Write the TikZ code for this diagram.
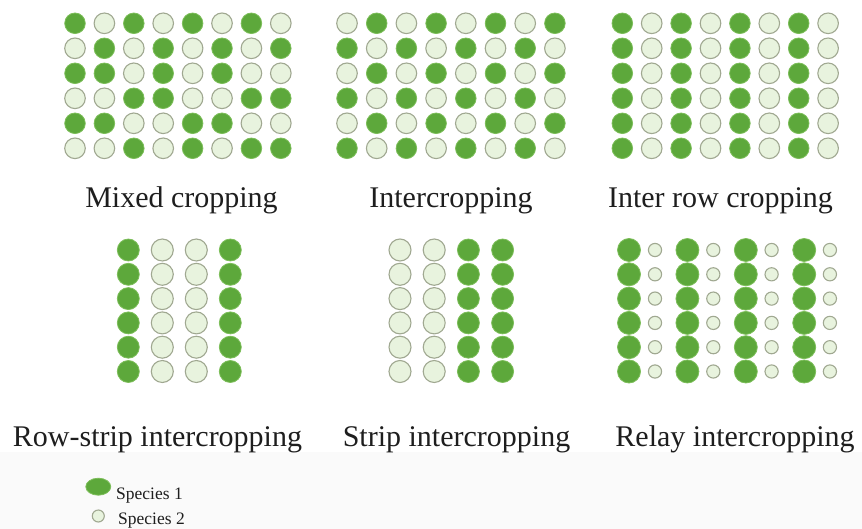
\documentclass[tikz,border=0pt]{standalone}
\usepackage{fontspec}
\setmainfont{Liberation Serif}
\usepackage{xcolor}
\definecolor{spgreen}{RGB}{93,168,59}
\definecolor{spedge}{RGB}{125,190,90}
\definecolor{splight}{RGB}{232,243,222}
\definecolor{sprim}{RGB}{160,168,145}
\definecolor{captext}{RGB}{30,30,30}

\begin{document}
\begin{tikzpicture}[x=1pt,y=-1pt,line cap=round,
  sp1/.style={fill=spgreen,draw=spedge,line width=0.8pt},
  sp2/.style={fill=splight,draw=sprim,line width=1.1pt},
  plotlabel/.style={anchor=base,text=captext,font=\fontsize{30}{35}\selectfont},
  leg/.style={anchor=base west,inner sep=0pt,text=captext,font=\fontsize{17.5}{20}\selectfont}]
\useasboundingbox (0,0) rectangle (862,529);
\fill[gray!4] (0,452) rectangle (862,529);
\foreach \row [count=\j from 0] in {{1,0,1,0,1,0,1,0},{0,1,0,1,0,1,0,1},{1,1,0,1,0,1,0,0},{0,0,1,1,0,0,1,1},{1,1,0,0,1,1,0,0},{0,0,1,0,1,0,1,1}}
  \foreach \s [count=\i from 0] in \row {
    \ifnum\s=1 \def\st{sp1}\else\def\st{sp2}\fi
    \path[\st] (75+29.4*\i,23.3+25*\j) circle (10.3);
  }
\foreach \j in {0,...,5}
  \foreach \i in {0,...,7} {
    \ifodd\numexpr\i+\j\relax \def\st{sp1}\else\def\st{sp2}\fi
    \path[\st] (347+29.7*\i,23.3+25*\j) circle (10.3);
    \ifodd\i \def\st{sp2}\else\def\st{sp1}\fi
    \path[\st] (622.3+29.4*\i,23.3+25*\j) circle (10.3);
  }
\foreach \j in {0,...,5} {
  \foreach \s [count=\i from 0] in {1,0,0,1} {
    \ifnum\s=1 \def\st{sp1}\else\def\st{sp2}\fi
    \path[\st] (128.3+34*\i,250+24.3*\j) circle (11);
  }
  \foreach \s [count=\i from 0] in {0,0,1,1} {
    \ifnum\s=1 \def\st{sp1}\else\def\st{sp2}\fi
    \path[\st] (400+34.2*\i,250+24.3*\j) circle (11);
  }
  \foreach \k in {0,...,3} {
    \path[sp1] (629+58.4*\k,250+24.3*\j) circle (11.5);
    \path[sp2] (655+58.3*\k,250+24.3*\j) circle (6.6);
  }
}
\node[plotlabel] (lblMixed) at (181.5,208) {Mixed cropping};
\node[plotlabel] (lblInter) at (451,208) {Intercropping};
\node[plotlabel] (lblInterRow) at (720.5,208) {Inter row cropping};
\node[plotlabel] (lblRowStrip) at (157.5,446) {Row-strip intercropping};
\node[plotlabel] (lblStrip) at (456.5,446) {Strip intercropping};
\node[plotlabel] (lblRelay) at (735,446) {Relay intercropping};
\path[sp1] (98.3,486.7) ellipse (12.5 and 8.5);
\path[sp2] (98.3,516) circle (6);
\node[leg] (legSp1) at (116,499) {Species 1};
\node[leg] (legSp2) at (118,524) {Species 2};
\end{tikzpicture}
\end{document}
